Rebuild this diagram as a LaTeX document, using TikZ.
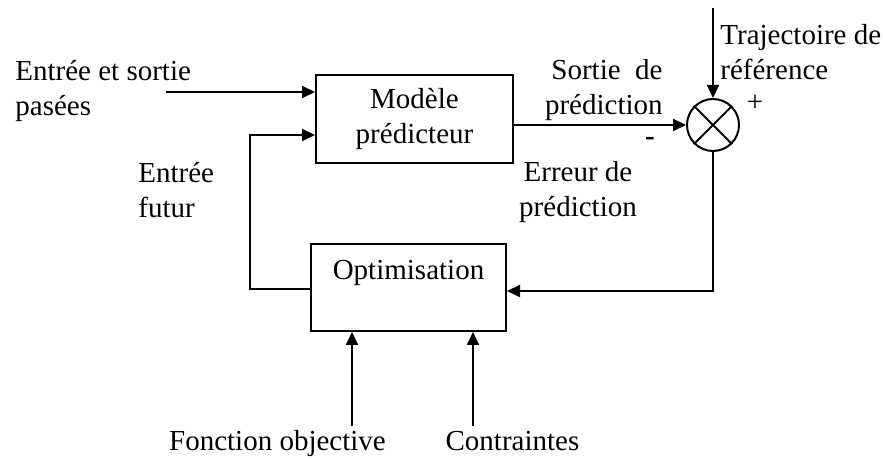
\documentclass[tikz,border=0pt]{standalone}
\usepackage{fontspec}
\setmainfont{Liberation Serif}
\usetikzlibrary{shapes,arrows.meta}

\begin{document}
\begin{tikzpicture}[x=0.5pt,y=-0.5pt]
\tikzstyle{every node}=[font=\fontsize{14.5}{17.5}\selectfont]
\tikzstyle{bloc}=[draw, rectangle, line width=1pt, align=center, inner sep=0pt]
\tikzstyle{fleche}=[line width=1pt, -{Triangle[length=6.5pt,width=6pt]}]
\tikzstyle{texte}=[inner sep=0pt]
\useasboundingbox (0,0) rectangle (883,459);
% blocs
\node[bloc, minimum width=98.5pt, minimum height=44pt] (modele) at (414.5,119) {Modèle\\prédicteur};
\node[bloc, minimum width=97.5pt, minimum height=43.5pt] (opti) at (408.5,287.5) {Optimisation\\~};
\node[draw, circle, line width=1pt, minimum size=26pt, inner sep=0pt] (somme) at (713,125) {};
\draw[line width=1pt] (somme.north west) -- (somme.south east)
  (somme.north east) -- (somme.south west);
% textes (base = ligne du bas)
\node[texte, align=left, anchor=base west] (passe) at (15,116) {Entrée et sortie\\pasées};
\node[texte, align=left, anchor=base west] (futur) at (138,218) {Entrée\\futur};
\node[texte, align=right, anchor=base east] (sortie) at (663,115) {Sortie\ \ de\\prédiction};
\node[texte, align=center, anchor=base] (erreur) at (578,217) {Erreur de\\prédiction};
\node[texte, align=left, anchor=base west] (traj) at (720,80) {Trajectoire de\\référence};
\node[texte, anchor=base] (fonc) at (277.5,451) {Fonction objective};
\node[texte, anchor=base] (contr) at (512.5,451) {Contraintes};
\node[texte] (moins) at (650,141) {\textbf{-}};
\node[texte] (plus) at (755,103) {+};
% liaisons
\coordinate (e1) at (166,92);
\coordinate (ref) at (713,8);
\coordinate (coin) at (713,291);
\coordinate (g1) at (250,289);
\coordinate (g2) at (250,135);
\coordinate (fo) at (352,426);
\coordinate (co) at (473,426);
\draw[fleche] (e1) -- (e1 -| modele.west);
\draw[fleche] (modele.east |- somme.west) -- (somme.west);
\draw[fleche] (ref) -- (somme.north);
\draw[fleche] (somme.south) -- (coin) -- (coin -| opti.east);
\draw[fleche] (g1 -| opti.west) -- (g1) -- (g2) -- (g2 -| modele.west);
\draw[fleche] (fo) -- (fo |- opti.south);
\draw[fleche] (co) -- (co |- opti.south);
\end{tikzpicture}
\end{document}
